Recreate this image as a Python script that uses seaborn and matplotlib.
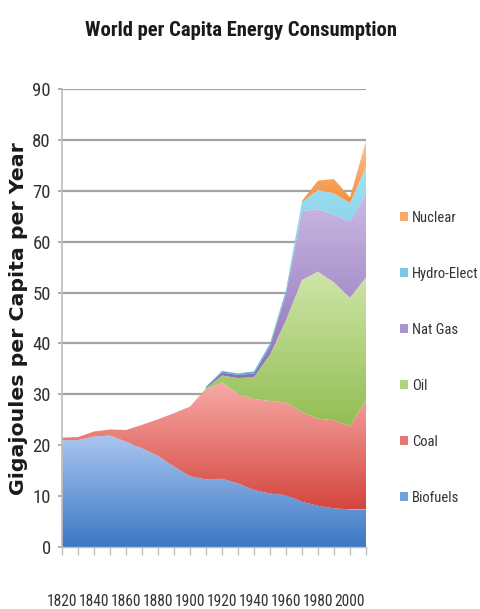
import numpy as np
import matplotlib
matplotlib.use("Agg")
import matplotlib.pyplot as plt
from matplotlib import font_manager
from matplotlib.patches import Patch
import seaborn as sns

# Per-capita energy use by source, gigajoules per person per year
years = list(range(1820, 2011, 10))
biofuels = [21.0, 21.0, 21.7, 21.9, 20.7, 19.4, 17.9, 15.8, 13.9, 13.3,
            13.4, 12.5, 11.2, 10.5, 10.2, 8.9, 8.1, 7.6, 7.4, 7.4]
coal = [0.5, 0.6, 1.0, 1.2, 2.3, 4.6, 7.2, 10.5, 13.7, 17.7,
        18.9, 17.6, 17.9, 18.2, 18.2, 17.6, 17.1, 17.3, 16.3, 21.6]
oil = [0, 0, 0, 0, 0, 0, 0, 0, 0, 0.2,
       1.4, 3.1, 4.3, 9.1, 16.2, 26.0, 28.9, 27.1, 25.3, 24.0]
nat_gas = [0, 0, 0, 0, 0, 0, 0, 0, 0, 0.2,
           0.6, 0.6, 0.7, 1.6, 5.2, 13.5, 12.3, 13.3, 15.0, 16.5]
hydro = [0, 0, 0, 0, 0, 0, 0, 0, 0, 0.1,
         0.3, 0.3, 0.4, 0.6, 0.7, 1.8, 3.8, 4.2, 3.6, 5.2]
nuclear = [0, 0, 0, 0, 0, 0, 0, 0, 0, 0,
           0, 0, 0, 0, 0, 0.2, 1.8, 2.8, 1.1, 5.1]

sources = ["Biofuels", "Coal", "Oil", "Nat Gas", "Hydro-Elect", "Nuclear"]
series = [biofuels, coal, oil, nat_gas, hydro, nuclear]
# (light top, dark bottom) gradient stops for each band
shades = [("#a9c6f0", "#3c78c4"),
          ("#f8aaa6", "#d3463f"),
          ("#cfe5aa", "#92be52"),
          ("#cbbae4", "#8a6bb4"),
          ("#a3e1f2", "#4cb2d4"),
          ("#fcc497", "#f58f3c")]
y_ticks = list(range(0, 91, 10))
x_labels = [str(y) if (y - 1820) % 20 == 0 else "" for y in years]

sns.set_theme(style="white")


def narrow_font():
    names = {f.name for f in font_manager.fontManager.ttflist}
    for fam in ["Liberation Sans Narrow", "Roboto Condensed",
                "Open Sans Condensed", "Noto Sans Condensed"]:
        if fam in names:
            return {"family": fam}
    for f in font_manager.fontManager.ttflist:
        if f.name in ("DejaVu Sans", "Noto Sans", "Open Sans", "Roboto") \
                and "condensed" in str(f.stretch).lower():
            return {"family": f.name, "stretch": "condensed"}
    return {"family": "DejaVu Sans"}


NARROW = narrow_font()

W, H = 480, 609
fig = plt.figure(figsize=(W / 100, H / 100), dpi=100)
fig.patch.set_facecolor("white")
ax = fig.add_axes([62 / W, 62 / H, (366 - 62) / W, (547 - 89) / H])
ax.set_facecolor("white")

# horizontal gridlines behind the stacked bands
for yv in y_ticks[1:]:
    ax.axhline(yv, color="#a3a3a3", lw=1.6, zorder=1)

x = np.array(years, dtype=float)
base = np.zeros(len(years))
grad = np.linspace(0, 1, 256).reshape(-1, 1)
for vals, (light, dark) in zip(series, shades):
    v = np.array(vals, dtype=float)
    top = base + v
    band = ax.fill_between(x, base, top, facecolor="none",
                           edgecolor="none", zorder=2)
    mask = v > 0
    lo, hi = base[mask].min(), top[mask].max()
    cmap = sns.blend_palette([dark, light], as_cmap=True)
    im = ax.imshow(grad, cmap=cmap, origin="lower", aspect="auto",
                   extent=[x[0], x[-1], lo, hi], interpolation="bilinear",
                   zorder=2)
    im.set_clip_path(band.get_paths()[0], transform=ax.transData)
    base = top

ax.set_xlim(years[0], years[-1])
ax.set_ylim(0, 90)
ax.set_yticks(y_ticks)
ax.set_yticklabels([str(t) for t in y_ticks], fontsize=13.5, color="#333333",
                   **NARROW)
ax.set_xticks(years)
ax.set_xticklabels(x_labels, fontsize=11.2, color="#333333", **NARROW)
ax.tick_params(axis="y", left=True, length=3, width=1.2, color="#a3a3a3",
               pad=5)
ax.tick_params(axis="x", bottom=True, length=6, width=1, color="#c0c0c0",
               pad=27.5)
for side in ("top", "right"):
    ax.spines[side].set_visible(False)
ax.spines["left"].set_color("#bdbdbd")
ax.spines["left"].set_linewidth(1.2)
ax.spines["bottom"].set_color("#bdbdbd")
ax.spines["bottom"].set_linewidth(1.0)

# legend, newest source on top
handles = [Patch(facecolor=sns.blend_palette([d, l], 3)[1], edgecolor="none")
           for l, d in shades][::-1]
leg = ax.legend(handles, sources[::-1], loc="center left",
                bbox_to_anchor=(400 / W, 1 - 358 / H),
                bbox_transform=fig.transFigure, frameon=False,
                prop=font_manager.FontProperties(size=10.5, **NARROW),
                handlelength=0.55, handleheight=0.55, handletextpad=0.25,
                labelspacing=2.88, borderaxespad=0, borderpad=0)
for t in leg.get_texts():
    t.set_color("#333333")

title = fig.text(241 / W, 1 - 31 / H, "World per Capita Energy Consumption",
                 ha="center", va="center", fontsize=15, fontweight="bold",
                 color="#1a1a1a", **NARROW)
ylab = fig.text(19 / W, 1 - 319 / H, "Gigajoules per Capita per Year",
                ha="center", va="center", rotation=90, fontsize=13,
                fontweight="bold", color="#1a1a1a", family="DejaVu Sans")

# size the heading and axis title to their spans
renderer = fig.canvas.get_renderer()
for txt, span, use_w in ((title, 312, True), (ylab, 350, False)):
    bb = txt.get_window_extent(renderer)
    cur = bb.width if use_w else bb.height
    txt.set_fontsize(txt.get_fontsize() * span / cur)

fig.savefig("out.png", dpi=100, facecolor="white")
